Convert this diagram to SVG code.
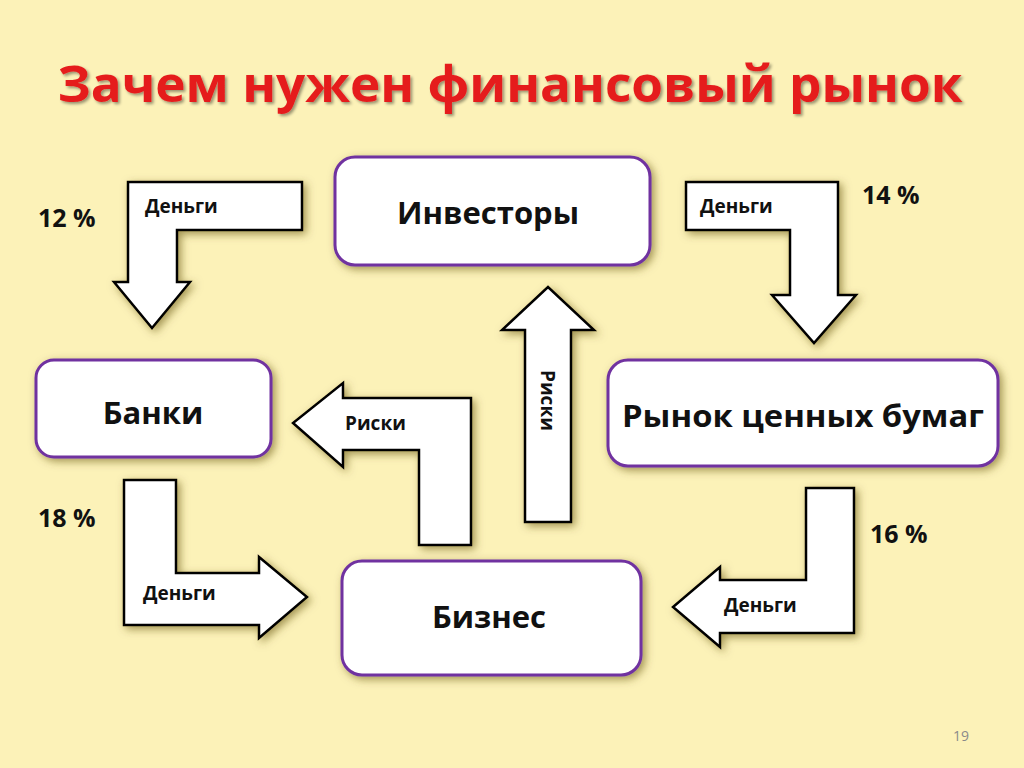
<svg xmlns="http://www.w3.org/2000/svg" width="1024" height="768" viewBox="0 0 1024 768">
<defs>
<filter id="sh" x="-20%" y="-20%" width="140%" height="140%"><feDropShadow dx="3" dy="3" stdDeviation="4" flood-color="#5a4a00" flood-opacity="0.55"/></filter>
<filter id="tsh"><feDropShadow dx="2" dy="2" stdDeviation="1.5" flood-color="#000" flood-opacity="0.4"/></filter>
</defs>
<style>
.box{fill:#fff;stroke:#7030a0;stroke-width:3;filter:url(#sh)}
.arr{fill:#fff;stroke:#000;stroke-width:2.5;stroke-linejoin:miter;filter:url(#sh)}
text{font-family:"Open Sans","Liberation Sans",sans-serif;font-weight:bold;fill:#111}
.n{font-size:31px;text-anchor:middle}
.l{font-size:19px}
.p{font-size:25px}
</style>
<rect width="1024" height="768" fill="#fcf2b8"/>
<text x="510" y="102" text-anchor="middle" font-size="50" textLength="905" lengthAdjust="spacingAndGlyphs" style="fill:#e51e1e;filter:url(#tsh)">Зачем нужен финансовый рынок</text>
<g id="connectors">
<g id="a1"><path class="arr" d="M128,182 H302 V230 H177 V282 H190 L152,328 L114,282 H128 Z"/><text class="l" x="145" y="213">Деньги</text></g>
<g id="a2"><path class="arr" d="M686,182 H838 V295 H856 L814,343 L772,295 H790 V230 H686 Z"/><text class="l" x="700" y="213">Деньги</text></g>
<g id="a3"><path class="arr" d="M525,522 V330 H502 L548,287 L594,330 H571 V522 Z"/><text class="l" transform="translate(541,370) rotate(90)">Риски</text></g>
<g id="a4"><path class="arr" d="M471,545 V398 H343 V383 L293,423 L343,467 V450 H419 V545 Z"/><text class="l" x="345" y="430">Риски</text></g>
<g id="a5"><path class="arr" d="M124,480 H176 V573 H259 V557 L307,597 L259,638 V625 H124 Z"/><text class="l" x="143" y="600">Деньги</text></g>
<g id="a6"><path class="arr" d="M806,488 H854 V633 H720 V647 L673,607 L720,567 V580 H806 Z"/><text class="l" x="724" y="612">Деньги</text></g>
</g>
<g id="investors"><rect class="box" x="335" y="157" width="315" height="108" rx="20"/><text class="n" x="488" y="224">Инвесторы</text></g>
<g id="banks"><rect class="box" x="36" y="360" width="235" height="97" rx="18"/><text class="n" x="153" y="424">Банки</text></g>
<g id="market"><rect class="box" x="608" y="360" width="390" height="106" rx="20"/><text class="n" x="803" y="427" textLength="362" lengthAdjust="spacingAndGlyphs">Рынок ценных бумаг</text></g>
<g id="business"><rect class="box" x="342" y="561" width="299" height="114" rx="20"/><text class="n" x="489" y="628">Бизнес</text></g>
<text class="p" x="38" y="227">12 %</text>
<text class="p" x="862" y="204">14 %</text>
<text class="p" x="38" y="527">18 %</text>
<text class="p" x="870" y="543">16 %</text>
<text x="953" y="741" font-size="14" style="font-weight:normal;fill:#8a8a8a">19</text>
</svg>
